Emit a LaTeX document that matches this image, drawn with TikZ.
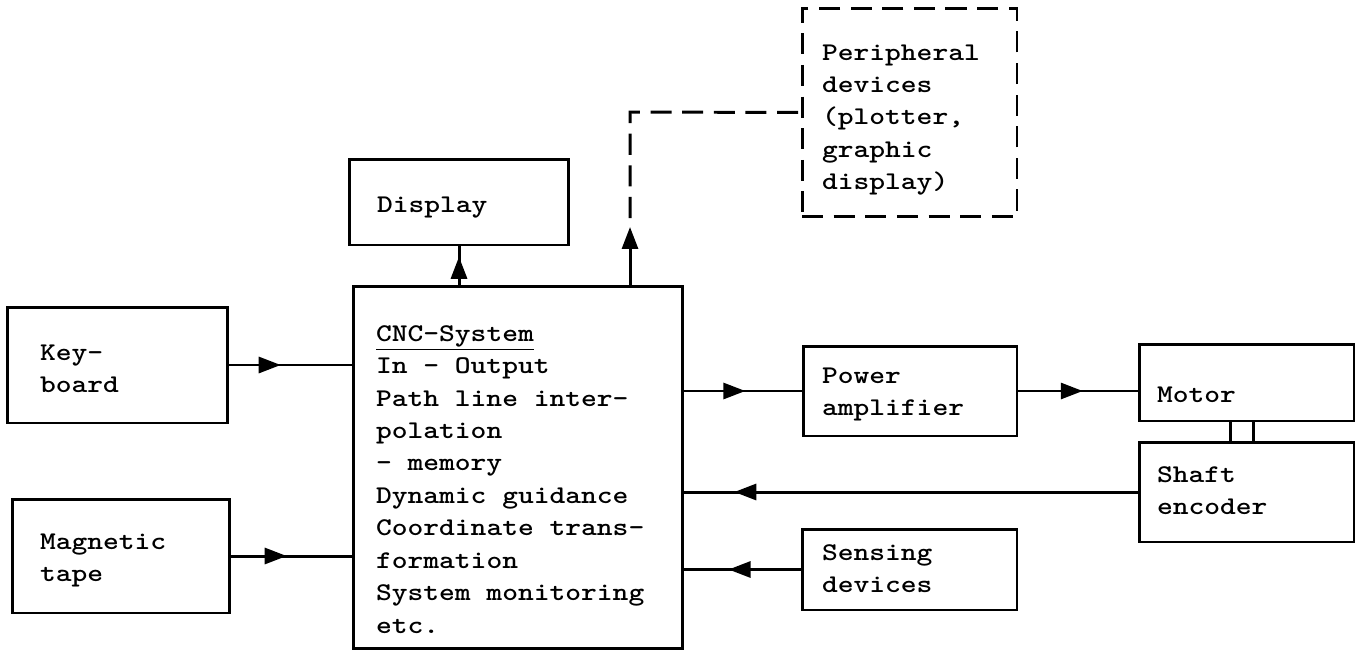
\documentclass[tikz,border=0pt]{standalone}
\usepackage{fontspec}
\setmonofont{lmmonolt10-bold.otf}[FakeStretch=1.18]
\usepackage{tikz}
\usetikzlibrary{arrows.meta, positioning, calc, decorations.markings}

% fixed word space for the stretched typewriter face
\newcommand{\typeface}{\fontsize{14.5}{18.49}\selectfont\ttfamily
    \fontdimen2\font=8.98pt \fontdimen3\font=0pt \fontdimen4\font=0pt}

\tikzset{
    blk/.style={draw, line width=1.7pt, rectangle, align=flush left, inner xsep=0.4cm, inner ysep=0pt,
        font=\typeface},
    flow/.style={line width=1.7pt},
    dashline/.style={line width=1.7pt, dash pattern={on 12pt off 6pt}},
    midarrow/.style={postaction={decorate},
        decoration={markings, mark=at position #1 with {\arrow{Triangle[length=4.4mm,width=3.2mm]}}}}
}

\begin{document}
\begin{tikzpicture}[x=0.02cm, y=-0.02cm]
    \useasboundingbox (0,0) rectangle (1364,652);

    % Input devices
    \node[blk, inner xsep=0.66cm, text width=3.10cm, minimum height=2.32cm,
        text height=0.45cm, text depth=0.65cm] (kbd) at (117.5,365) {Key-\\board};
    \node[blk, inner xsep=0.56cm, text width=3.24cm, minimum height=2.28cm,
        text height=0.37cm, text depth=0.65cm] (tape) at (121,556) {Magnetic\\tape};

    % Control unit
    \node[blk, inner xsep=0.46cm, text width=5.68cm, minimum height=7.26cm,
        text height=0.79cm, text depth=5.85cm] (cnc) at (518,467.5)
        {\underline{CNC-System}\\In - Output\\Path line inter-\\polation\\- memory\\Dynamic guidance\\Coordinate trans-\\formation\\System monitoring\\etc.};

    % Output side
    \node[blk, inner xsep=0.56cm, text width=3.28cm, minimum height=1.72cm,
        text height=0.44cm, text depth=0cm] (disp) at (459,202) {Display};
    \node[blk, dashline, text width=3.50cm, minimum height=4.18cm,
        text height=0.50cm, text depth=2.60cm] (periph) at (909.5,112.5)
        {Peripheral\\devices\\(plotter,\\graphic\\display)};
    \node[blk, inner xsep=0.38cm, text width=3.52cm, minimum height=1.80cm,
        text height=0.33cm, text depth=0.65cm] (amp) at (910,391) {Power\\amplifier};
    \node[blk, text width=3.50cm, minimum height=1.62cm,
        text height=0.27cm, text depth=0.65cm] (sense) at (909.5,569.5) {Sensing\\devices};

    % Drive
    \node[blk, inner xsep=0.36cm, text width=3.58cm, minimum height=1.54cm,
        text height=0.78cm, text depth=0cm] (motor) at (1246.5,382.5) {Motor};
    \node[blk, inner xsep=0.36cm, text width=3.58cm, minimum height=2.00cm,
        text height=0.25cm, text depth=0.65cm] (shaft) at (1246.5,492) {Shaft\\encoder};

    % Bend points of the peripheral link
    \coordinate (ptip) at (630,227);
    \coordinate (pdash) at (630,218);
    \coordinate (pbend) at (630,112);

    % Connections
    \draw[flow, midarrow=0.42] (kbd.east) -- (kbd.east -| cnc.west);
    \draw[flow, midarrow=0.46] (tape.east) -- (tape.east -| cnc.west);
    \draw[flow, midarrow=0.73] (disp.south |- cnc.north) -- (disp.south);
    \draw[flow, -{Triangle[length=4.4mm,width=3.2mm]}] (ptip |- cnc.north) -- (ptip);
    \draw[dashline] (pdash) -- (pbend) -- (periph.west);
    \draw[flow, midarrow=0.52] (amp.west -| cnc.east) -- (amp.west);
    \draw[flow, midarrow=0.54] (amp.east) -- (amp.east -| motor.west);
    \draw[flow, midarrow=0.89] (shaft.west) -- (shaft.west -| cnc.east);
    \draw[flow, midarrow=0.62] (sense.west) -- (sense.west -| cnc.east);

    % Coupling between motor and encoder
    \draw[flow] ([xshift=-0.33cm]motor.south) -- ([xshift=-0.33cm]motor.south |- shaft.north);
    \draw[flow] ([xshift=0.13cm]motor.south) -- ([xshift=0.13cm]motor.south |- shaft.north);
\end{tikzpicture}
\end{document}
